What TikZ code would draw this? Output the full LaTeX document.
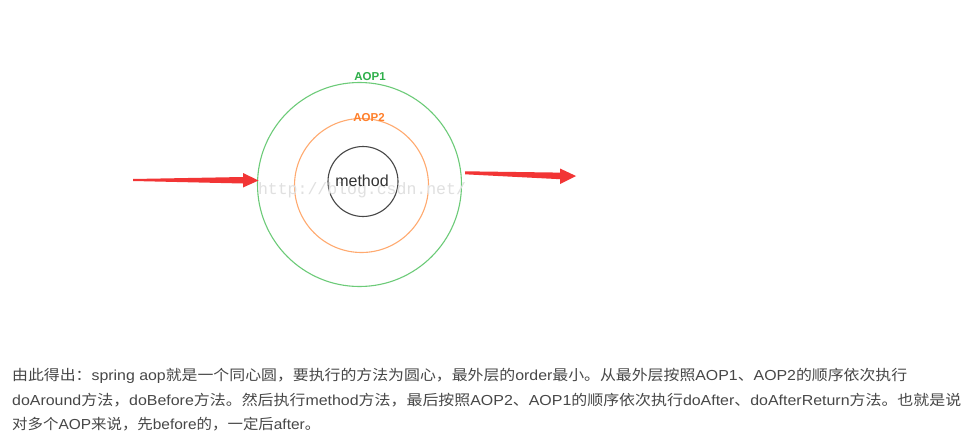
\documentclass[tikz,border=0pt]{standalone}
\usepackage{fontspec}
\usetikzlibrary{calc}
\setmainfont{Liberation Sans}
\newfontfamily\cjkfont{Noto Sans CJK SC}
\newfontfamily\wmfont{Liberation Mono}
\newcommand{\C}[1]{{\cjkfont #1}}
\definecolor{aopgreen}{HTML}{6CCB78}
\definecolor{aopgreentxt}{HTML}{2EAF4A}
\definecolor{aoporange}{HTML}{FFAA70}
\definecolor{aoporangetxt}{HTML}{FF7F2A}
\definecolor{arrowred}{HTML}{F23535}
\definecolor{bodytext}{HTML}{474747}
\tikzset{
  ring/.style={draw, circle, line width=1.1pt, inner sep=0pt},
  redarrow/.style={fill=arrowred, draw=none},
  bodyline/.style={anchor=west, inner sep=0pt, text=bodytext, font=\fontsize{14.5}{17}\selectfont},
  aoplabel/.style={font=\bfseries\fontsize{11.5}{13}\selectfont, inner sep=0pt}
}
\begin{document}
\begin{tikzpicture}[x=1pt,y=-1pt]
\useasboundingbox[fill=white] (0,0) rectangle (968,441);
% rings
\node[ring, draw=aopgreen, minimum size=204pt] (aop1) at (359.5,184.5) {};
\node[ring, draw=aoporange, minimum size=134pt] (aop2) at (361.5,185.5) {};
\node[ring, draw=black!72, minimum size=70pt] (meth) at (363,181.5) {};
% watermark
\node[text=black!12, font=\wmfont\fontsize{16.5}{18}\selectfont, inner sep=0pt] (wm) at (362,190) {http://blog.csdn.net/};
\node[text=black!80, font=\fontsize{16}{17}\selectfont, inner sep=0pt] (mtext) at (362,181) {method};
% labels
\node[aoplabel, text=aopgreentxt] (l1) at (370,77) {AOP1};
\node[aoplabel, text=aoporangetxt] (l2) at (369,118) {AOP2};
% arrows
\coordinate (intail) at (133,180);
\coordinate (intip) at (258.5,180.5);
\coordinate (outtail) at (465,172.5);
\coordinate (outtip) at (576,176);
\fill[redarrow] ($(intail)+(0,-1)$) -- (243,177) -- (243,173) -- (intip) -- (243,187.5) -- (243,183.5) -- ($(intail)+(0,1)$) -- cycle;
\fill[redarrow] ($(outtail)+(0,-1.2)$) -- (560,172.6) -- (560,168.5) -- (outtip) -- (560,184) -- (560,179.2) -- ($(outtail)+(0,1.8)$) -- cycle;
% body text
\node[bodyline] (t1) at (12,376) {\resizebox{895pt}{\height}{\C{由此得出：}spring aop\C{就是一个同心圆，要执行的方法为圆心，最外层的}order\C{最小。从最外层按照}AOP1\C{、}AOP2\C{的顺序依次执行}}};
\node[bodyline] (t2) at (12,400) {\resizebox{949pt}{\height}{doAround\C{方法，}doBefore\C{方法。然后执行}method\C{方法，最后按照}AOP2\C{、}AOP1\C{的顺序依次执行}doAfter\C{、}doAfterReturn\C{方法。也就是说}}};
\node[bodyline] (t3) at (12,424) {\resizebox{308pt}{\height}{\C{对多个}AOP\C{来说，先}before\C{的，一定后}after\C{。}}};
\end{tikzpicture}
\end{document}
